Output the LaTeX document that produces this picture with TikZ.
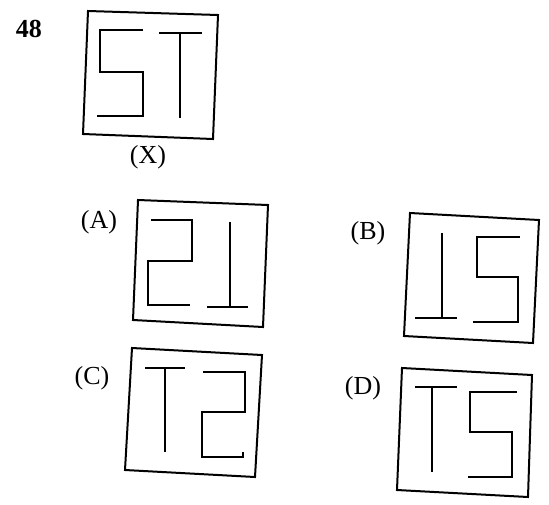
\documentclass[tikz,border=0pt]{standalone}
\usepackage{fontspec}
\setmainfont{Liberation Serif}
\tikzset{
  frame/.style={line width=2pt, line join=miter},
  glyph/.style={line width=1.4pt},
  optlabel/.style={font=\fontsize{26}{28}\selectfont, inner sep=0pt}
}
\begin{document}
\begin{tikzpicture}[x=1pt, y=-1pt]
        \useasboundingbox (0,0) rectangle (549,504);

        % question number
        \node[optlabel, font=\fontsize{26}{28}\selectfont\bfseries] (qnum) at (29,29) {48};

        % figure X
        \draw[frame] (88,11) -- (218,15) -- (213,139) -- (83,134) -- cycle;
        \draw[glyph] (143,30) -- (100,30) -- (100,72) -- (143,72) -- (143,116) -- (97,116);
        \draw[glyph] (159,33) -- (202,33);
        \draw[glyph] (180,33) -- (180,118);
        \node[optlabel] (lblX) at (148,157) {(X)};

        % option A
        \node[optlabel] (lblA) at (99,222) {(A)};
        \draw[frame] (138,200) -- (268,205) -- (263,327) -- (133,320) -- cycle;
        \draw[glyph] (151,220) -- (192,220) -- (192,261) -- (148,261) -- (148,305) -- (190,305);
        \draw[glyph] (230,222) -- (230,307);
        \draw[glyph] (207,307) -- (248,307);

        % option B
        \node[optlabel] (lblB) at (368,233) {(B)};
        \draw[frame] (410,213) -- (539,220) -- (533,343) -- (404,336) -- cycle;
        \draw[glyph] (442,233) -- (442,318);
        \draw[glyph] (415,318) -- (457,318);
        \draw[glyph] (520,237) -- (477,237) -- (477,277) -- (518,277) -- (518,322) -- (473,322);

        % option C
        \node[optlabel] (lblC) at (92,378) {(C)};
        \draw[frame] (132,348) -- (262,355) -- (255,477) -- (125,470) -- cycle;
        \draw[glyph] (145,368) -- (185,368);
        \draw[glyph] (165,368) -- (165,452);
        \draw[glyph] (203,372) -- (245,372) -- (245,412) -- (202,412) -- (202,457) -- (243,457) -- (243,452);

        % option D
        \node[optlabel] (lblD) at (363,388) {(D)};
        \draw[frame] (402,368) -- (532,375) -- (528,497) -- (397,490) -- cycle;
        \draw[glyph] (415,387) -- (457,387);
        \draw[glyph] (432,387) -- (432,472);
        \draw[glyph] (517,392) -- (470,392) -- (470,432) -- (512,432) -- (512,477) -- (468,477);

    \end{tikzpicture}
\end{document}
